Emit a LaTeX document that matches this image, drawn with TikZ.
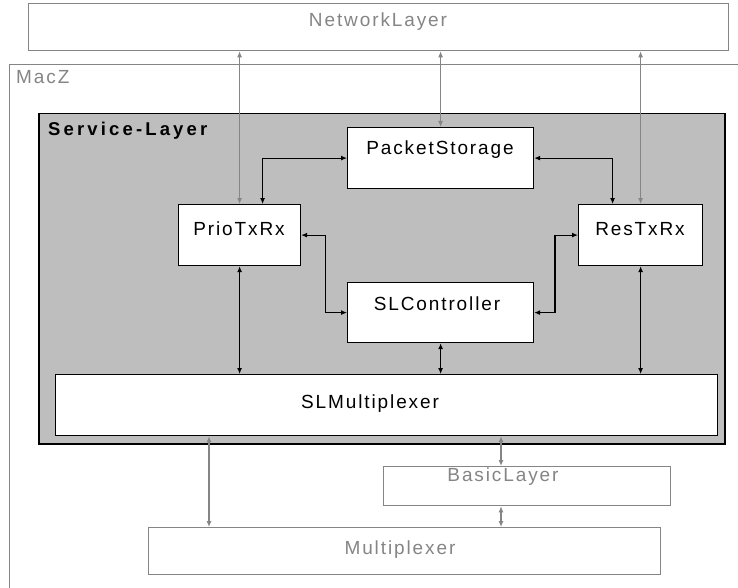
\documentclass[tikz,border=0pt]{standalone}
\usepackage{fontspec}
\setmainfont{Liberation Sans}[LetterSpace=10]
\newfontfamily\widefont{Liberation Sans}[LetterSpace=17]
\usetikzlibrary{arrows.meta}
\definecolor{linegray}{HTML}{858585}
\definecolor{layerfill}{HTML}{BEBEBE}
\tikzset{
  blk/.style={draw=black, fill=white, line width=1.2pt, inner sep=0pt, anchor=north west},
  gblk/.style={draw=linegray, line width=1.3pt, inner sep=0pt, anchor=north west},
  lbl/.style={font=\fontsize{19}{21}\selectfont, text=black, inner sep=0pt},
  glbl/.style={lbl, text=linegray},
  arr/.style={{Latex[length=6pt,width=5pt]}-{Latex[length=6pt,width=5pt]}, line width=1.1pt, draw=black},
  garr/.style={arr, draw=linegray, fill=linegray},
}
\begin{document}
\begin{tikzpicture}[x=1pt, y=-1pt]
\useasboundingbox (0,0) rectangle (738,588);
\fill[white] (0,0) rectangle (738,588);

% outer layers
\node[gblk, minimum width=700pt, minimum height=47pt] (nl) at (28,3) {};
\node[glbl] (nlt) at (378,22) {NetworkLayer};
\node[gblk, minimum width=740pt, minimum height=540pt] (macz) at (9,64) {};
\node[glbl, anchor=west] (maczt) at (16,77) {MacZ};

% service layer container
\node[draw=black, fill=layerfill, line width=1.5pt, inner sep=0pt, anchor=north west,
      minimum width=686pt, minimum height=330pt] (sl) at (38,113) {};
\node[lbl, anchor=west, font=\widefont\fontsize{18.5}{20}\selectfont\bfseries] (slt) at (48,131) {Service-Layer};

% inner blocks
\node[blk, minimum width=186pt, minimum height=61pt] (ps) at (347,127) {};
\node[lbl] (pst) at (440,150) {PacketStorage};
\node[blk, minimum width=122pt, minimum height=61pt] (prio) at (178,204) {};
\node[lbl] (priot) at (239,229) {PrioTxRx};
\node[blk, minimum width=124pt, minimum height=61pt] (res) at (578,204) {};
\node[lbl] (rest) at (640,229) {ResTxRx};
\node[blk, minimum width=186pt, minimum height=60pt] (slc) at (347,282) {};
\node[lbl] (slct) at (437,304) {SLController};
\node[blk, minimum width=662pt, minimum height=61pt] (slm) at (55,374) {};
\node[lbl] (slmt) at (370,404) {SLMultiplexer};

% lower layers
\node[gblk, fill=white, minimum width=287pt, minimum height=39pt] (bl) at (383,466) {};
\node[glbl] (blt) at (503,477) {BasicLayer};
\node[gblk, fill=white, minimum width=512pt, minimum height=47pt] (mux) at (148,527) {};
\node[glbl] (muxt) at (400,550) {Multiplexer};

\coordinate (xl) at (209,0);
\coordinate (xb) at (501,0);

% links to the network layer
\draw[garr] (nl.south -| prio.north) -- (prio.north);
\draw[garr] (nl.south -| ps.north) -- (ps.north);
\draw[garr] (nl.south -| res.north) -- (res.north);

% links inside the service layer
\draw[arr] (ps.west) -| ([xshift=23pt]prio.north);
\draw[arr] (ps.east) -| ([xshift=-28pt]res.north);
\draw[arr] (prio.east) -- ++(24,0) |- (slc.west);
\draw[arr] (res.west) -- ++(-23,0) |- (slc.east);
\draw[arr] (prio.south) -- (prio.south |- slm.north);
\draw[arr] (res.south) -- (res.south |- slm.north);
\draw[arr] (slc.south) -- (slc.south |- slm.north);

% links to the lower layers
\draw[garr] (slm.south -| xl) -- (mux.north -| xl);
\draw[garr] (slm.south -| xb) -- (bl.north -| xb);
\draw[garr] (bl.south -| xb) -- (mux.north -| xb);
\end{tikzpicture}
\end{document}
